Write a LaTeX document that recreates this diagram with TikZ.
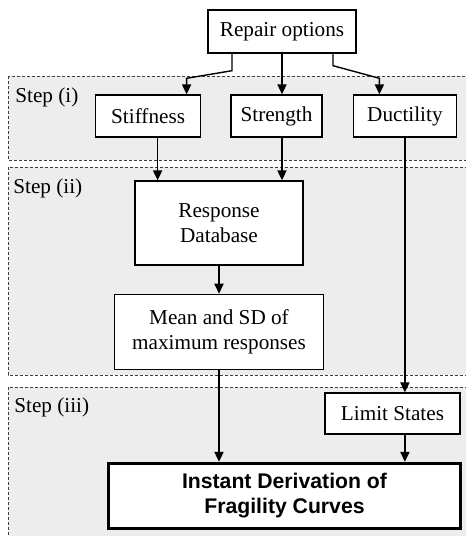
\documentclass[tikz,border=0pt]{standalone}
\usepackage{fontspec}
\setmainfont{Liberation Serif}
\setsansfont{Liberation Sans}
\usetikzlibrary{arrows.meta, positioning, calc}
\tikzstyle{block} = [rectangle, draw, line width=0.7pt, text centered, align=center, inner sep=0pt, fill=white, font=\fontsize{10.6}{12.5}\selectfont]
\tikzstyle{result} = [block, line width=1.7pt, font=\sffamily\bfseries\fontsize{10.6}{12.5}\selectfont]
\tikzstyle{stage} = [draw=black!75, line width=0.4pt, dash pattern=on 1.5pt off 1pt, fill=black!7]
\tikzstyle{steplabel} = [anchor=west, inner sep=0pt, font=\fontsize{10.6}{12.5}\selectfont]
\tikzstyle{flow} = [line width=0.7pt, -{Triangle[length=5pt, width=4.6pt]}]

\begin{document}
\begin{tikzpicture}[x=0.5pt, y=-0.5pt]

	\fill[white] (0,0) rectangle (466,536);
	\useasboundingbox (0,0) rectangle (466,536);
	\clip (0,0) rectangle (466,536);

	% Step regions
	\draw[stage] (8,76) rectangle (480,160);
	\draw[stage] (8,167) rectangle (480,375);
	\draw[stage] (8,387) rectangle (480,560);

	\node (stepi) [steplabel] at (15,97) {Step (i)};
	\node (stepii) [steplabel] at (13,188) {Step (ii)};
	\node (stepiii) [steplabel] at (14,407) {Step (iii)};

	% Repair options
	\node (repair) [block, minimum width=74pt, minimum height=21.5pt] at (282,31.5) {Repair options};
	\node (strength) [block, minimum width=45.5pt, minimum height=21pt] at (276.5,116) {Strength};
	\node (stiffness) [block, minimum width=52.5pt, minimum height=21pt, left=14.5pt of strength] {Stiffness};
	\node (ductility) [block, minimum width=51.5pt, minimum height=21pt, right=15pt of strength] {Ductility};

	% Responses
	\node (database) [block, minimum width=84pt, minimum height=42pt] at (219,223) {Response\\Database};
	\node (meansd) [block, minimum width=104.5pt, minimum height=37.5pt, below=14pt of database] {Mean and SD of\\maximum responses};

	% Fragility
	\node (limit) [block, minimum width=67.5pt, minimum height=20.5pt] at (392.5,413.5) {Limit States};
	\node (fragility) [result, minimum width=176pt, minimum height=32.5pt] at (284.5,496) {Instant Derivation of\\Fragility Curves};

	% Arrows - repair options
	\draw[flow] ([xshift=-25pt]repair.south) -- ++(0,17) -- ($(stiffness.north)+(38.5,-16)$) -- ($(stiffness.north)+(38.5,0)$);
	\draw[flow] (repair.south) -- (repair.south |- strength.north);
	\draw[flow] ([xshift=25.5pt]repair.south) -- ++(0,12) -- ($(ductility.north)+(-25.5,-16)$) -- ($(ductility.north)+(-25.5,0)$);

	% Arrows - responses
	\draw[flow] ([xshift=4.75pt]stiffness.south) -- ([xshift=4.75pt]stiffness.south |- database.north);
	\draw[flow] ([xshift=2.75pt]strength.south) -- ([xshift=2.75pt]strength.south |- database.north);
	\draw[flow] (database) -- (meansd);
	\draw[flow] (meansd.south) -- (meansd.south |- fragility.north);

	% Arrows - limit states
	\draw[flow] (ductility.south) -- (ductility.south |- limit.north);
	\draw[flow] (ductility.south |- limit.south) -- (ductility.south |- fragility.north);

\end{tikzpicture}
\end{document}
